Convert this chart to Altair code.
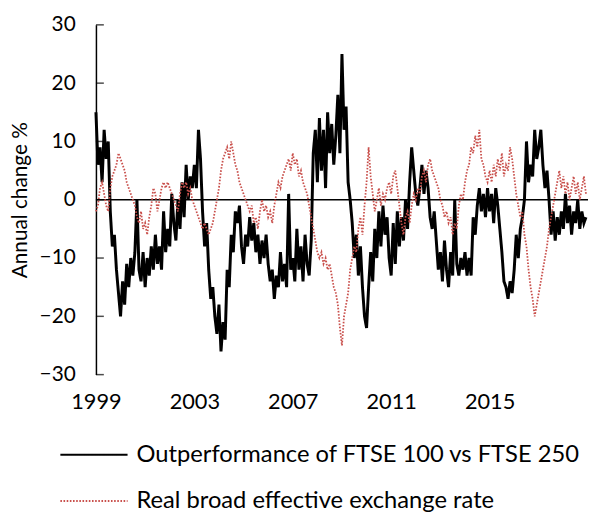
import altair as alt
import pandas as pd

start_year = 1999

# Outperformance of FTSE 100 vs FTSE 250 (annual change %, monthly readings)
ftse = [
    15, 6, 9, 3, 12, 7, 10, -2, -8, -6, -12, -16,          # 1999
    -20, -14, -18, -11, -15, -10, -13, -9, 0, -12, -14, -9,  # 2000
    -15, -10, -13, -8, -12, -6, -11, -8, -12, -2, -9, -5,    # 2001
    -8, 1, -4, -7, 0, -5, 3, -3, 6, 0, 4, 2,                 # 2002
    6, 2, 12, 7, -2, -8, -4, -12, -17, -15, -20, -23,        # 2003
    -18, -26, -21, -24, -12, -15, -6, -9, -2, -4, -1, -8,    # 2004
    -11, -6, -8, -3, -7, -4, -9, -6, -11, -7, -10, -6,       # 2005
    -11, -14, -12, -17, -13, -15, -9, -14, -11, -15, 1, -12, # 2006
    -10, -14, -5, -12, -8, -14, -6, -11, -13, -7, 8, 12,     # 2007
    3, 14, 5, 12, 2, 15, 8, 13, 6, 11, 18, 8,                # 2008
    25, 12, 16, 3, 0, -4, -10, -6, -13, -8, -15, -20,        # 2009
    -22, -15, -9, -14, -5, -10, -2, -8, -1, -6, -3, -10,     # 2010
    -13, -4, -11, -2, -8, -3, -7, 0, -5, 3, 9, 5,            # 2011
    1, -1, 2, 6, 1, 5, 2, -3, -5, -2, -7, -12,               # 2012
    -9, -14, -7, -12, -15, -9, -13, 0, -11, -13, -10, -12,   # 2013
    -9, -13, -10, -13, -3, -6, -1, 2, -2, 1, -3, 2,          # 2014
    -2, 1, -4, 2, -1, -5, -9, -14, -15, -17, -14, -16,       # 2015
    -12, -6, -10, -5, -3, 0, 10, 3, 6, 4, 12, 7,             # 2016
    9, 12, 6, 2, 5, 0, -6, -2, -7, -3, -6, -2,               # 2017
    -5, 1, -4, -1, -6, -2, -4, 0, -5, -2, -4, -3,            # 2018
]

# Real broad effective exchange rate (annual change %, monthly readings)
reer = [
    -2, -1, 2, 3, 1, -1, -2, 2, 4, 5, 6, 8,                  # 1999
    7, 6, 5, 3, 2, 1, 0, -1, -3, -4, -2, -5,                 # 2000
    -4, -6, -3, -1, 2, 1, -2, 0, 2, 3, 2, 3,                 # 2001
    2, 1, 0, -1, -2, 1, 3, 2, 3, 1, 2, 0,                    # 2002
    -1, -2, -3, -4, -5, -4, -5, -6, -5, -4, -2, 0,           # 2003
    2, 5, 7, 8, 9, 7, 10, 8, 6, 5, 3, 2,                     # 2004
    1, 0, -1, -2, -1, -4, -3, -5, -2, 0, -2, -1,             # 2005
    -3, -2, -4, -1, 1, 3, 2, 4, 5, 6, 7, 5,                  # 2006
    8, 6, 7, 4, 5, 3, 2, 1, -1, -3, -5, -7,                  # 2007
    -9, -10, -9, -11, -10, -12, -11, -13, -15, -16, -18, -22,# 2008
    -25, -20, -18, -16, -12, -10, -8, -9, -5, -3, -6, -1,    # 2009
    3, 9, 4, 1, -2, 0, 2, -1, 1, 0, 2, 3,                    # 2010
    1, 4, 5, 2, -1, -4, -6, -3, -2, -4, -1, 1,               # 2011
    0, 2, 1, 4, 5, 3, 6, 7, 5, 4, 3, 2,                      # 2012
    0, -1, -3, -2, -4, -3, -6, -4, -5, -1, 1, 0,             # 2013
    3, 5, 6, 9, 8, 11, 9, 12, 7, 6, 4, 3,                    # 2014
    5, 3, 6, 4, 7, 5, 8, 4, 6, 5, 9, 7,                      # 2015
    4, 1, -1, -3, -2, -6, -8, -12, -15, -17, -20, -18,       # 2016
    -16, -14, -12, -10, -8, -5, -3, -1, 1, 3, 5, 2,          # 2017
    4, 1, 3, 0, 2, 4, 1, 3, 0, 2, 4, 1,                      # 2018
]

series_names = [
    "Outperformance of FTSE 100 vs FTSE 250",
    "Real broad effective exchange rate",
]
series_colors = ["#000000", "#c9504c"]
y_ticks = [-30, -20, -10, 0, 10, 20, 30]
x_labels = [1999, 2003, 2007, 2011, 2015]

t = [start_year + i / 12 for i in range(len(ftse))]
df_ftse = pd.DataFrame({"t": t, "v": ftse, "s": series_names[0]})
df_reer = pd.DataFrame({"t": t, "v": reer, "s": series_names[1]})
df_ticks = pd.DataFrame({"v": y_ticks})
df_zero = pd.DataFrame({"v": [0]})

FONT = "Lato"

x_enc = alt.X(
    "t:Q",
    scale=alt.Scale(domain=[1999, 2019], nice=False, zero=False),
    axis=alt.Axis(
        values=x_labels, format="d", domain=False, ticks=False, grid=False,
        labelFontSize=22, labelPadding=17, labelColor="black", labelFont=FONT,
        labelFlush=False, title=None,
    ),
)
y_enc = alt.Y(
    "v:Q",
    scale=alt.Scale(domain=[-30, 30], nice=False, zero=False),
    axis=alt.Axis(
        values=y_ticks, grid=False, ticks=False, domainColor="black",
        domainWidth=1.5, labelFontSize=21, labelPadding=21, labelColor="black",
        labelFont=FONT, labelFlush=False, title="Annual change %", titleFont=FONT,
        titleFontSize=21, titleFontWeight="normal", titleColor="black",
        titlePadding=9,
    ),
)
color_enc = alt.Color(
    "s:N", scale=alt.Scale(domain=series_names, range=series_colors), title=None
)
dash_enc = alt.StrokeDash(
    "s:N", scale=alt.Scale(domain=series_names, range=[[1, 0], [1.6, 1.6]]), title=None
)

zero_line = alt.Chart(df_zero).mark_rule(color="black", strokeWidth=1.5).encode(
    y=alt.Y("v:Q")
)
ticks = alt.Chart(df_ticks).mark_tick(
    orient="horizontal", color="black", thickness=1.5, size=8
).encode(y=alt.Y("v:Q"), x=alt.value(4))

black_line = alt.Chart(df_ftse).mark_line(strokeWidth=3).encode(
    x=x_enc, y=y_enc, color=color_enc, strokeDash=dash_enc
)
red_line = alt.Chart(df_reer).mark_line(strokeWidth=1.8).encode(
    x=x_enc, y=y_enc, color=color_enc, strokeDash=dash_enc
)

chart = (
    alt.layer(zero_line, black_line, red_line, ticks)
    .properties(
        width=498,
        height=354,
        autosize=alt.AutoSizeParams(type="none"),
        padding={"left": 89, "top": 14, "right": 0, "bottom": 138},
    )
    .configure_view(stroke=None)
    .configure_legend(
        orient="none",
        legendX=-37,
        legendY=400,
        direction="vertical",
        padding=0,
        labelFont=FONT,
        labelFontSize=24,
        labelColor="black",
        labelOffset=8,
        labelLimit=0,
        rowPadding=-32,
        symbolType="stroke",
        symbolSize=4624,
        symbolStrokeWidth=2,
        title=None,
    )
)

chart.save("out.html", embed_options={"renderer": "svg", "actions": False})
